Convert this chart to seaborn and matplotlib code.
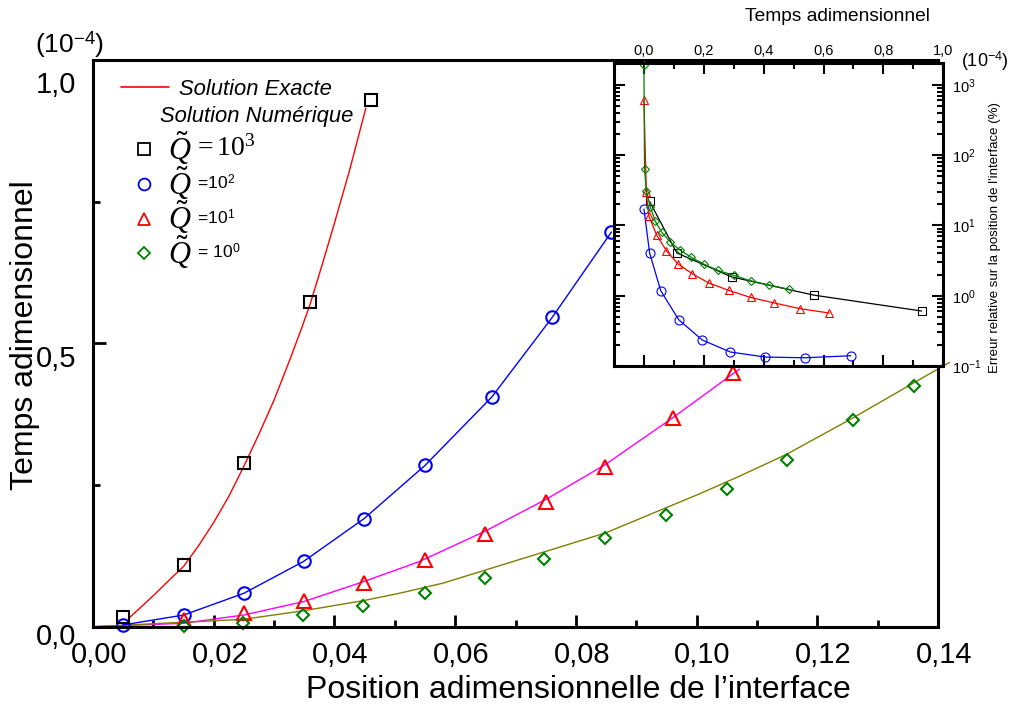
import matplotlib
matplotlib.use("Agg")
import matplotlib.pyplot as plt
import matplotlib.transforms as mtransforms
from matplotlib.lines import Line2D
from matplotlib.ticker import FixedLocator, MultipleLocator, LogLocator, NullFormatter
import seaborn as sns

# ---------------- main panel: interface position vs dimensionless time ----------------
# Q = 10^3 : exact solution (curve) and numerical solution (squares)
x_exact_q3 = [0.0061, 0.0085, 0.0105, 0.0125, 0.0150, 0.0175, 0.0200, 0.0225, 0.0250,
              0.0275, 0.0300, 0.0325, 0.0345, 0.0360, 0.0380, 0.0400, 0.0425, 0.0452]
t_exact_q3 = [0.0166, 0.040, 0.060, 0.081, 0.1063, 0.143, 0.184, 0.230, 0.2833,
              0.340, 0.400, 0.468, 0.525, 0.570, 0.640, 0.712, 0.805, 0.915]
x_num_q3 = [0.0050, 0.0150, 0.0250, 0.0360, 0.0461]
t_num_q3 = [0.0177, 0.109, 0.289, 0.573, 0.930]

# Q = 10^2 : numerical solution (circles, joined)
x_num_q2 = [0.0049, 0.0150, 0.0250, 0.0349, 0.0449, 0.0550, 0.0661, 0.0761, 0.0859]
t_num_q2 = [0.003, 0.0205, 0.059, 0.1153, 0.1906, 0.2845, 0.4056, 0.5461, 0.6966]

# Q = 10^1 : exact solution (magenta) and numerical solution (triangles)
x_exact_q1 = [0.0, 0.0150, 0.0250, 0.0349, 0.0449, 0.0541, 0.0649, 0.0750, 0.0849, 0.0961, 0.1071]
t_exact_q1 = [0.0, 0.0060, 0.0207, 0.0443, 0.0797, 0.1151, 0.1682, 0.2244, 0.2863, 0.3690, 0.4546]
x_num_q1 = [0.0150, 0.0250, 0.0349, 0.0449, 0.0550, 0.0649, 0.0750, 0.0849, 0.0961, 0.1060]
t_num_q1 = [0.0119, 0.0237, 0.0455, 0.0769, 0.1169, 0.1636, 0.2196, 0.2816, 0.3690, 0.4480]

# Q = 10^0 : exact solution (olive) and numerical solution (diamonds)
x_exact_q0 = [0.0, 0.0249, 0.0348, 0.0448, 0.0508, 0.0580, 0.0849, 0.1005, 0.1071, 0.1149, 0.1260, 0.1361, 0.1419]
t_exact_q0 = [0.0, 0.013, 0.028, 0.046, 0.0591, 0.0769, 0.1654, 0.2345, 0.2656, 0.3041, 0.3690, 0.4310, 0.4664]
x_num_q0 = [0.0150, 0.0249, 0.0348, 0.0448, 0.0550, 0.0649, 0.0748, 0.0849, 0.0949, 0.1050, 0.1149, 0.1260, 0.1361]
t_num_q0 = [0.0012, 0.0071, 0.0207, 0.0372, 0.0592, 0.0868, 0.1199, 0.1558, 0.1978, 0.2435, 0.2934, 0.3642, 0.4250]

x_ticks = [0.00, 0.02, 0.04, 0.06, 0.08, 0.10, 0.12, 0.14]
x_tick_labels = ["0,00", "0,02", "0,04", "0,06", "0,08", "0,10", "0,12", "0,14"]
y_ticks = [0.0, 0.5, 1.0]
y_tick_labels = ["0,0", "0,5", "1,0"]
y_minor_ticks = [0.25, 0.75]

# ---------------- inset: relative error on interface position vs time ----------------
inset_t_q3 = [0.019, 0.110, 0.293, 0.567, 0.928]
inset_err_q3 = [21.9, 4.05, 1.85, 1.02, 0.605]
inset_t_q2 = [0.0, 0.019, 0.056, 0.116, 0.195, 0.289, 0.406, 0.539, 0.691]
inset_err_q2 = [17.1, 4.05, 1.18, 0.456, 0.234, 0.158, 0.134, 0.131, 0.140]
inset_t_q1 = [0.0, 0.008, 0.016, 0.043, 0.075, 0.113, 0.161, 0.216, 0.283, 0.356, 0.436, 0.522, 0.619]
inset_err_q1 = [600, 29.4, 13.7, 7.21, 4.37, 2.85, 2.06, 1.52, 1.19, 0.946, 0.787, 0.653, 0.567]
inset_t_q0 = [0.0, 0.002, 0.008, 0.021, 0.038, 0.060, 0.088, 0.119, 0.158, 0.200, 0.247, 0.300, 0.356, 0.417, 0.483]
inset_err_q0 = [1888, 64, 31.2, 18.3, 11.4, 7.94, 5.81, 4.51, 3.51, 2.82, 2.29, 1.95, 1.63, 1.42, 1.24]

inset_x_ticks = [0.0, 0.2, 0.4, 0.6, 0.8, 1.0]
inset_x_tick_labels = ["0,0", "0,2", "0,4", "0,6", "0,8", "1,0"]

# ---------------- style ----------------
sns.set_theme(style="ticks")
plt.rcParams.update({
    "font.family": ["Liberation Sans", "DejaVu Sans"],
    "mathtext.fontset": "custom",
    "mathtext.rm": "Liberation Sans",
    "mathtext.it": "Liberation Serif:italic",
    "mathtext.sf": "Liberation Serif",
    "mathtext.bf": "Liberation Sans:bold",
    "axes.edgecolor": "black",
    "axes.labelcolor": "black",
    "text.color": "black",
    "xtick.color": "black",
    "ytick.color": "black",
    "axes.linewidth": 2.2,
})

fig = plt.figure(figsize=(10.10, 7.06), dpi=100)
W, H = 1010.0, 706.0
ax = fig.add_axes([93 / W, (H - 626.7) / H, 845 / W, (626.7 - 60) / H])


def curve(axis, x, y, color, lw=1.0, clip=True):
    sns.lineplot(x=x, y=y, ax=axis, color=color, lw=lw, estimator=None, sort=False)
    axis.lines[-1].set_clip_on(clip)


def points(axis, x, y, color, marker, ms, mew, ls="none", lw=1.0):
    sns.lineplot(x=x, y=y, ax=axis, color=color, ls=ls, lw=lw, marker=marker, ms=ms,
                 mfc="none", mec=color, mew=mew, estimator=None, sort=False)
    axis.lines[-1].set_clip_on(False)


# exact curves
curve(ax, x_exact_q3, t_exact_q3, "#ff0000")
curve(ax, x_exact_q1, t_exact_q1, "#ff00ff")
curve(ax, x_exact_q0, t_exact_q0, "#808000", clip=False)
# numerical points
points(ax, x_num_q2, t_num_q2, "#0000ff", "o", 9.0, 1.5, ls="-", lw=1.0)
points(ax, x_num_q3, t_num_q3, "black", "s", 9.0, 1.5)
points(ax, x_num_q1, t_num_q1, "#ff0000", "^", 9.5, 1.5)
points(ax, x_num_q0, t_num_q0, "#008000", "D", 6.5, 1.5)

ax.set_xlim(0, 0.14)
ax.set_ylim(0, 1.0)
ax.xaxis.set_major_locator(FixedLocator(x_ticks))
ax.set_xticklabels(x_tick_labels)
ax.xaxis.set_minor_locator(MultipleLocator(0.01))
ax.yaxis.set_major_locator(FixedLocator(y_ticks))
ax.set_yticklabels(y_tick_labels)
ax.yaxis.set_minor_locator(FixedLocator(y_minor_ticks))
ax.tick_params(which="both", direction="in", top=False, right=False, width=2.0, labelsize=21)
ax.tick_params(which="major", length=9)
ax.tick_params(which="minor", length=5)
ax.tick_params(axis="x", which="major", pad=10)
ax.tick_params(axis="y", which="major", pad=12)

# tick labels sit a little right of / below their ticks
shift_x = mtransforms.ScaledTranslation(0.06, 0, fig.dpi_scale_trans)
for lab in ax.get_xticklabels():
    lab.set_transform(lab.get_transform() + shift_x)
for lab, dy in zip(ax.get_yticklabels(), [0.07, 0.13, 0.22]):
    lab.set_transform(lab.get_transform() + mtransforms.ScaledTranslation(0, -dy, fig.dpi_scale_trans))

ax.set_xlabel("Position adimensionnelle de l\u2019interface", fontsize=23)
ax.xaxis.set_label_coords(0.574, -0.112)
ax.xaxis.label.set_va("center")
ax.set_ylabel("Temps adimensionnel", fontsize=23)
ax.yaxis.set_label_coords(-0.0805, 0.515)
ax.yaxis.label.set_va("center")

fig.text(70 / W, 1 - 45 / H, r"(10$^{-4}$)", fontsize=19, ha="center", va="center")

# legend: exact / numerical captions
leg1 = ax.legend([Line2D([], [], color="#ff0000", lw=1.2)], ["Solution Exacte"],
                 loc="upper left", bbox_to_anchor=(121 / W, 1 - 79 / H),
                 bbox_transform=fig.transFigure, frameon=False,
                 prop={"size": 15.8, "style": "italic"}, handlelength=2.2,
                 handletextpad=0.45, borderpad=0, borderaxespad=0)
ax.add_artist(leg1)
ax.annotate("Solution Num\u00e9rique", xy=(0, 0.5), xycoords=leg1.get_texts()[0],
            xytext=(-13.5, -19.5), textcoords="offset points", va="center", ha="left",
            fontsize=15.8, fontstyle="italic", zorder=6)

# legend: one entry per heat-source intensity
handles = [
    Line2D([], [], ls="none", marker="s", ms=8.5, mfc="none", mec="black", mew=1.3),
    Line2D([], [], ls="none", marker="o", ms=8.5, mfc="none", mec="#0000ff", mew=1.3),
    Line2D([], [], ls="none", marker="^", ms=9.0, mfc="none", mec="#ff0000", mew=1.3),
    Line2D([], [], ls="none", marker="D", ms=6.5, mfc="none", mec="#008000", mew=1.3),
]
labels = [r"$\tilde{Q}$", r"$\tilde{Q}$", r"$\tilde{Q}$", r"$\tilde{Q}$"]
leg2 = ax.legend(handles, labels, loc="upper left", bbox_to_anchor=(121 / W, 1 - 129 / H),
                 bbox_transform=fig.transFigure, frameon=False, prop={"size": 22},
                 handlelength=1.5, handletextpad=0.05, labelspacing=-0.1,
                 borderpad=0, borderaxespad=0)

suffixes = [r"$\mathsf{=10^{3}}$", r" =10$^{2}$", r" =10$^{1}$", r" = 10$^{0}$"]
suffix_sizes = [20, 12.5, 12.5, 12.5]
for t, s, fs in zip(leg2.get_texts(), suffixes, suffix_sizes):
    ax.annotate(s, xy=(1, 0.5), xycoords=t, xytext=(1, 0), textcoords="offset points",
                va="center", ha="left", fontsize=fs, zorder=6)

# ---------------- inset ----------------
ax2 = fig.add_axes([614 / W, (H - 366) / H, 329.3 / W, 302.7 / H])
ax2.set_facecolor("white")
ax2.set_yscale("log")

points(ax2, inset_t_q3, inset_err_q3, "black", "s", 5.3, 0.8, ls="-", lw=0.9)
points(ax2, inset_t_q2, inset_err_q2, "#0000ff", "o", 6.5, 0.8, ls="-", lw=0.9)
points(ax2, inset_t_q1, inset_err_q1, "#ff0000", "^", 6.0, 0.8, ls="-", lw=0.9)
points(ax2, inset_t_q0, inset_err_q0, "#008000", "D", 4.1, 0.8, ls="-", lw=0.9)

ax2.set_xlim(-0.1, 1.0)
ax2.set_ylim(0.1, 2023)
ax2.xaxis.set_major_locator(FixedLocator(inset_x_ticks))
ax2.set_xticklabels(inset_x_tick_labels)
ax2.xaxis.set_minor_locator(MultipleLocator(0.1))
ax2.yaxis.set_major_locator(LogLocator(base=10, numticks=10))
ax2.yaxis.set_minor_locator(LogLocator(base=10, subs=range(2, 10), numticks=100))
ax2.yaxis.set_minor_formatter(NullFormatter())
ax2.tick_params(which="both", direction="in", top=True, bottom=True, left=True, right=True,
                labeltop=True, labelbottom=False, labelleft=False, labelright=True,
                width=1.5, labelsize=10.5)
ax2.tick_params(which="major", length=8)
ax2.tick_params(which="minor", length=4.5)
ax2.tick_params(axis="x", pad=4)
ax2.tick_params(axis="y", pad=6)

ax2.xaxis.set_label_position("top")
ax2.set_xlabel("Temps adimensionnel", fontsize=13.8)
ax2.xaxis.set_label_coords(0.679, 1.153)
ax2.xaxis.label.set_va("center")
ax2.yaxis.set_label_position("right")
ax2.set_ylabel("Erreur relative sur la position de l'interface (%)", fontsize=9.5, rotation=90)
ax2.yaxis.set_label_coords(1.157, 0.4245)
ax2.yaxis.label.set_va("center")

fig.text(985 / W, 1 - 61 / H, r"(10$^{-4}$)", fontsize=13, ha="center", va="center")

fig.canvas.draw()
fig.savefig("out.png", dpi=100)
